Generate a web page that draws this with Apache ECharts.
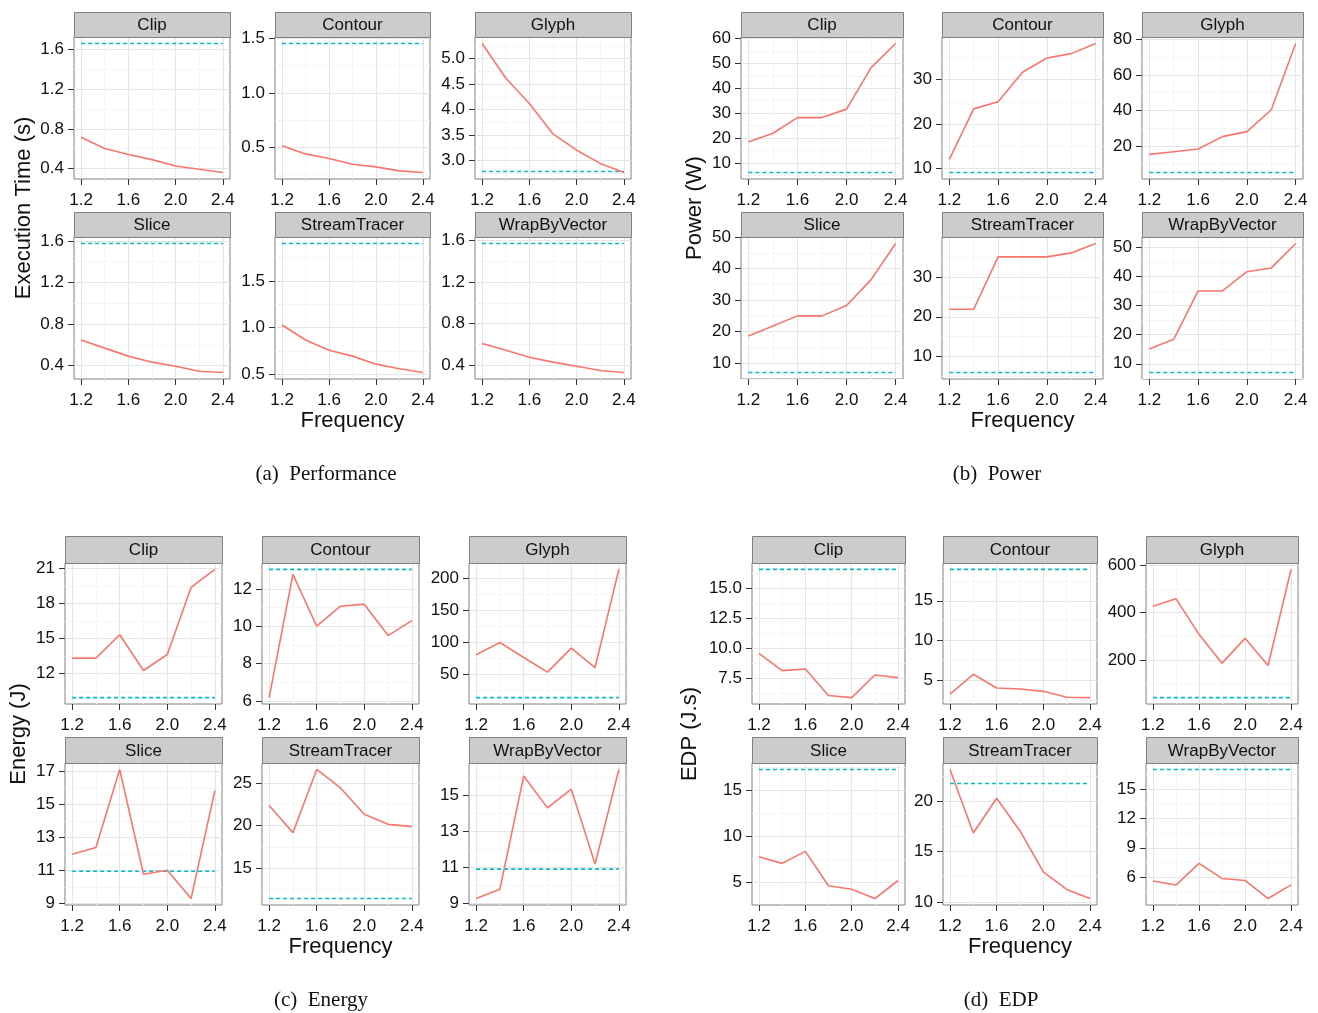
<!DOCTYPE html>
<html><head><meta charset="utf-8">
<script src="https://cdn.jsdelivr.net/npm/echarts@6/dist/echarts.min.js"></script>
<style>html,body{margin:0;padding:0;background:#fff}#c{width:1318px;height:1013px}</style>
</head><body><div id="c"></div>
<script>
// ---------- data ----------
const freqs = [1.2, 1.4, 1.6, 1.8, 2.0, 2.2, 2.4];
const xTickVals = [1.2, 1.6, 2.0, 2.4];
const apps = ['Clip', 'Contour', 'Glyph', 'Slice', 'StreamTracer', 'WrapByVector'];

// (a) Performance: execution time (s)
const timeClip    = [0.716, 0.602, 0.541, 0.490, 0.426, 0.393, 0.360];
const timeContour = [0.515, 0.441, 0.399, 0.346, 0.322, 0.285, 0.270];
const timeGlyph   = [5.30, 4.62, 4.12, 3.52, 3.20, 2.94, 2.76];
const timeSlice   = [0.646, 0.568, 0.491, 0.433, 0.394, 0.346, 0.333];
const timeStream  = [1.028, 0.867, 0.756, 0.694, 0.608, 0.558, 0.518];
const timeWrap    = [0.610, 0.545, 0.477, 0.430, 0.390, 0.350, 0.330];
const timeRef     = [1.66, 1.454, 2.78, 1.575, 1.902, 1.57];
const timeTicks   = [[0.4, 0.8, 1.2, 1.6], [0.5, 1.0, 1.5], [3.0, 3.5, 4.0, 4.5, 5.0], [0.4, 0.8, 1.2, 1.6], [0.5, 1.0, 1.5], [0.4, 0.8, 1.2, 1.6]];

// (b) Power (W)
const powerClip    = [18.4, 21.9, 28.2, 28.2, 31.6, 48.3, 58.0];
const powerContour = [12.0, 23.4, 25.0, 31.7, 34.9, 35.9, 38.2];
const powerGlyph   = [15.3, 16.8, 18.3, 25.3, 28.1, 40.4, 77.7];
const powerSlice   = [18.6, 21.8, 25.0, 25.0, 28.3, 36.5, 48.0];
const powerStream  = [21.9, 21.9, 35.2, 35.2, 35.2, 36.2, 38.6];
const powerWrap    = [15.1, 18.4, 35.0, 35.0, 41.6, 42.9, 51.3];
const powerRef     = [6.1, 9.0, 5.1, 7.0, 5.85, 7.0];
const powerTicks   = [[10, 20, 30, 40, 50, 60], [10, 20, 30], [20, 40, 60, 80], [10, 20, 30, 40, 50], [10, 20, 30], [10, 20, 30, 40, 50]];

// (c) Energy (J)
const energyClip    = [13.32, 13.32, 15.32, 12.26, 13.63, 19.37, 20.91];
const energyContour = [6.18, 12.77, 10.0, 11.07, 11.18, 9.5, 10.3];
const energyGlyph   = [80.7, 99.8, 76.5, 53.7, 91.1, 60.9, 213.4];
const energySlice   = [11.98, 12.39, 17.12, 10.77, 11.01, 9.30, 15.84];
const energyStream  = [22.35, 19.18, 26.57, 24.41, 21.33, 20.15, 19.88];
const energyWrap    = [9.26, 9.78, 16.08, 14.31, 15.35, 11.18, 16.45];
const energyRef     = [9.94, 13.04, 14.2, 10.95, 11.47, 10.9];
const energyTicks   = [[12, 15, 18, 21], [6, 8, 10, 12], [50, 100, 150, 200], [9, 11, 13, 15, 17], [15, 20, 25], [9, 11, 13, 15]];

// (d) EDP (J.s)
const edpClip    = [9.56, 8.11, 8.25, 6.03, 5.86, 7.75, 7.53];
const edpContour = [3.23, 5.72, 3.99, 3.86, 3.57, 2.82, 2.78];
const edpGlyph   = [427, 459, 308, 186, 291, 176, 583];
const edpSlice   = [7.78, 7.05, 8.36, 4.60, 4.23, 3.21, 5.18];
const edpStream  = [23.13, 16.83, 20.27, 17.03, 12.97, 11.23, 10.33];
const edpWrap    = [5.59, 5.18, 7.40, 5.86, 5.65, 3.80, 5.20];
const edpRef     = [16.56, 18.96, 40, 17.3, 21.73, 17.03];
const edpTicks   = [[7.5, 10.0, 12.5, 15.0], [5, 10, 15], [200, 400, 600], [5, 10, 15], [10, 15, 20], [6, 9, 12, 15]];

// ---------- layout ----------
const panels = [
  { vals: [timeClip, timeContour, timeGlyph, timeSlice, timeStream, timeWrap], refs: timeRef, ticks: timeTicks,
    cols: [[74, 230], [275, 430], [475, 631]], rows: [[12, 37, 179], [212, 237, 379]],
    ytitle: 'Execution Time (s)', ytx: 24, caption: '(a)  Performance', capx: 326, capy: 474, fy: 421 },
  { vals: [powerClip, powerContour, powerGlyph, powerSlice, powerStream, powerWrap], refs: powerRef, ticks: powerTicks,
    cols: [[741, 903], [942, 1103], [1142, 1303]], rows: [[12, 37, 179], [212, 237, 379]],
    ytitle: 'Power (W)', ytx: 695, caption: '(b)  Power', capx: 997, capy: 474, fy: 421 },
  { vals: [energyClip, energyContour, energyGlyph, energySlice, energyStream, energyWrap], refs: energyRef, ticks: energyTicks,
    cols: [[65, 222], [262, 419], [469, 626]], rows: [[536, 563, 704], [737, 763, 905]],
    ytitle: 'Energy (J)', ytx: 19, caption: '(c)  Energy', capx: 321, capy: 1000, fy: 947 },
  { vals: [edpClip, edpContour, edpGlyph, edpSlice, edpStream, edpWrap], refs: edpRef, ticks: edpTicks,
    cols: [[752, 905], [943, 1097], [1146, 1298]], rows: [[536, 563, 704], [737, 763, 905]],
    ytitle: 'EDP (J.s)', ytx: 690, caption: '(d)  EDP', capx: 1001, capy: 1000, fy: 947 }
];

const FONT = '"Liberation Sans", Arial, Helvetica, sans-serif';
const SERIF = '"Liberation Serif", "Times New Roman", serif';
const TICK_FS = 17, STRIP_FS = 17, TITLE_FS = 22, CAP_FS = 21;
const MAJOR = '#E5E5E5', MINOR = '#F5F5F5', BORDER = '#808080';

const grids = [], xAxes = [], yAxes = [], series = [], graphics = [];

const xStep = xTickVals[1] - xTickVals[0];
const xMinors = xTickVals.slice(0, -1).map(t => +(t + xStep / 2).toFixed(6));
const xPad = (freqs[freqs.length - 1] - freqs[0]) * 0.05;
const xMin = freqs[0] - xPad, xMax = freqs[freqs.length - 1] + xPad;

panels.forEach(p => {
  p.vals.forEach((vals, k) => {
    const col = p.cols[k % 3], row = p.rows[Math.floor(k / 3)];
    const gi = grids.length;
    grids.push({ left: col[0], top: row[1], width: col[1] - col[0], height: row[2] - row[1],
      show: true, borderColor: BORDER, borderWidth: 1, backgroundColor: '#fff' });
    const ref = p.refs[k];
    const lo = Math.min(ref, ...vals), hi = Math.max(ref, ...vals);
    const pad = (hi - lo) * 0.05;
    const yMin = lo - pad, yMax = hi + pad;
    const ticks = p.ticks[k];
    const step = ticks[1] - ticks[0];
    const minors = ticks.map(t => t - step / 2).concat([ticks[ticks.length - 1] + step / 2]).filter(v => v > yMin && v < yMax);
    const dec = Math.max(...ticks.map(t => { const s = String(t).split('.')[1]; return s ? s.length : 0; }));

    xAxes.push({ gridIndex: gi, type: 'value', min: xMin, max: xMax, position: 'bottom',
      axisLine: { show: false },
      axisTick: { show: true, length: 6, customValues: xTickVals, lineStyle: { color: '#333', width: 1 } },
      axisLabel: { customValues: xTickVals, formatter: v => v.toFixed(1), margin: 13, fontSize: TICK_FS, color: '#111', fontFamily: FONT },
      splitLine: { show: true, lineStyle: { color: MAJOR, width: 1 } } });
    xAxes.push({ gridIndex: gi, type: 'value', min: xMin, max: xMax, position: 'top',
      axisLine: { show: false }, axisTick: { show: false, customValues: xMinors }, axisLabel: { show: false },
      splitLine: { show: true, lineStyle: { color: MINOR, width: 1 } } });
    yAxes.push({ gridIndex: gi, type: 'value', min: yMin, max: yMax, position: 'left',
      axisLine: { show: false },
      axisTick: { show: true, length: 6, customValues: ticks, lineStyle: { color: '#333', width: 1 } },
      axisLabel: { customValues: ticks, formatter: v => v.toFixed(dec), margin: 10, fontSize: TICK_FS, color: '#111', fontFamily: FONT },
      splitLine: { show: true, lineStyle: { color: MAJOR, width: 1 } } });
    yAxes.push({ gridIndex: gi, type: 'value', min: yMin, max: yMax, position: 'right',
      axisLine: { show: false }, axisTick: { show: false, customValues: minors }, axisLabel: { show: false },
      splitLine: { show: true, lineStyle: { color: MINOR, width: 1 } } });

    series.push({ type: 'line', xAxisIndex: 2 * gi, yAxisIndex: 2 * gi, silent: true, z: 3,
      data: freqs.map((f, j) => [f, vals[j]]), symbol: 'none',
      lineStyle: { color: '#F8766D', width: 1.6 }, itemStyle: { color: '#F8766D' } });
    series.push({ type: 'line', xAxisIndex: 2 * gi, yAxisIndex: 2 * gi, silent: true, z: 2,
      data: [[freqs[0], ref], [freqs[freqs.length - 1], ref]], symbol: 'none',
      lineStyle: { color: '#00BFC4', width: 1.6, type: [4, 3] }, itemStyle: { color: '#00BFC4' } });

    graphics.push({ type: 'rect', silent: true, z: 10,
      shape: { x: col[0] + 0.5, y: row[0] + 0.5, width: col[1] - col[0], height: row[1] - row[0] },
      style: { fill: '#CCCCCC', stroke: BORDER, lineWidth: 1 } });
    graphics.push({ type: 'text', silent: true, z: 11, x: (col[0] + col[1]) / 2, y: (row[0] + row[1]) / 2 + 1,
      style: { text: apps[k], fontSize: STRIP_FS, fontFamily: FONT, fill: '#111', align: 'center', verticalAlign: 'middle' } });
  });

  const yc = (p.rows[0][1] + p.rows[1][2]) / 2;
  graphics.push({ type: 'text', silent: true, x: p.ytx, y: yc, rotation: Math.PI / 2,
    style: { text: p.ytitle, fontSize: TITLE_FS, fontFamily: FONT, fill: '#111', align: 'center', verticalAlign: 'middle' } });
  const xc = (p.cols[1][0] + p.cols[1][1]) / 2;
  graphics.push({ type: 'text', silent: true, x: xc, y: p.fy,
    style: { text: 'Frequency', fontSize: TITLE_FS, fontFamily: FONT, fill: '#111', align: 'center', verticalAlign: 'middle' } });
  graphics.push({ type: 'text', silent: true, x: p.capx, y: p.capy,
    style: { text: p.caption, fontSize: CAP_FS, fontFamily: SERIF, fill: '#111', align: 'center', verticalAlign: 'middle' } });
});

const chart = echarts.init(document.getElementById('c'), null, { renderer: 'canvas' });
chart.setOption({
  animation: false,
  backgroundColor: '#fff',
  grid: grids, xAxis: xAxes, yAxis: yAxes, series: series,
  graphic: { elements: graphics }
});
</script>
</body></html>
